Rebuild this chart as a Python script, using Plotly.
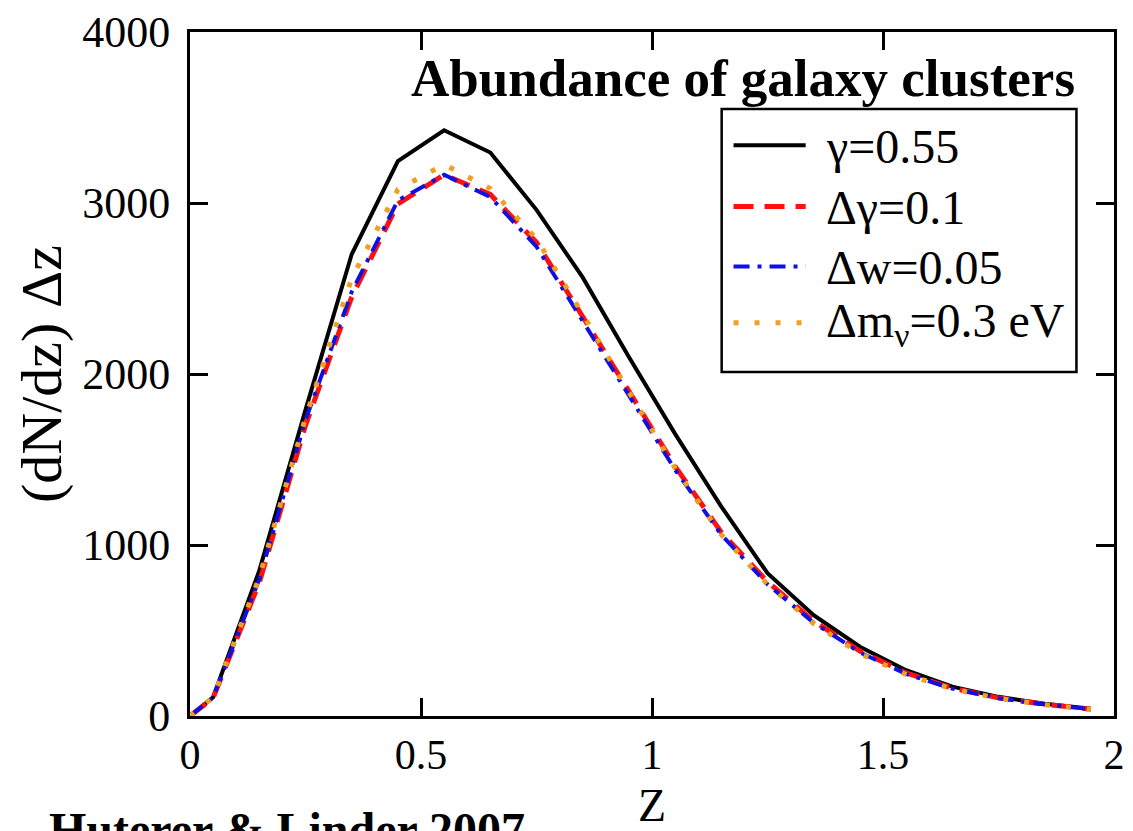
import plotly.graph_objects as go

# Redshift bin centres and cluster counts per bin for each model
z = [0.0, 0.05, 0.15, 0.25, 0.35, 0.45, 0.55, 0.65, 0.75, 0.85, 0.95,
     1.05, 1.15, 1.25, 1.35, 1.45, 1.55, 1.65, 1.75, 1.85, 1.95]
n_fiducial = [0, 110, 850, 1790, 2700, 3245, 3425, 3295, 2960, 2565, 2100,
              1650, 1225, 835, 590, 405, 268, 172, 112, 72, 42]
n_dgamma = [0, 105, 780, 1700, 2450, 2995, 3165, 3050, 2770, 2340, 1900,
            1460, 1075, 785, 555, 380, 252, 163, 106, 68, 40]
n_dw = [0, 108, 800, 1730, 2480, 3015, 3165, 3035, 2745, 2310, 1875,
        1440, 1060, 770, 545, 372, 246, 160, 104, 67, 40]
n_dmnu = [0, 110, 810, 1745, 2560, 3080, 3225, 3085, 2790, 2350, 1895,
          1450, 1060, 770, 540, 365, 243, 158, 103, 66, 39]

labels = ["γ=0.55", "Δγ=0.1", "Δw=0.05", "Δm<sub>ν</sub>=0.3 eV"]
series = [n_fiducial, n_dgamma, n_dw, n_dmnu]

x_ticks = [0, 0.5, 1, 1.5, 2]
x_ticktext = ["0", "0.5", "1", "1.5", "2"]
y_ticks = [0, 1000, 2000, 3000, 4000]

styles = [
    dict(color="#000000", width=4, dash="solid"),
    dict(color="#ff1010", width=5, dash="20px,11px"),
    dict(color="#1010e0", width=4, dash="16px,8px,4px,8px"),
    dict(color="#f0a020", width=5, dash="5px,16px"),
]

W, H = 1133, 831
ML, MR, MT, MB = 190, 8, 28, 109
SERIF = "Liberation Serif, Times New Roman, serif"

fig = go.Figure()
for name, vals, st in zip(labels, series, styles):
    fig.add_trace(go.Scatter(x=z, y=vals, mode="lines", name=name,
                             line=st, showlegend=False))

axis_common = dict(
    showline=True, linecolor="black", linewidth=3, mirror="ticks",
    ticks="inside", ticklen=18, tickwidth=2.5, tickcolor="black",
    showgrid=False, zeroline=False,
)

fig.update_layout(
    width=W, height=H,
    margin=dict(l=ML, r=MR, t=MT, b=MB, pad=0),
    paper_bgcolor="white", plot_bgcolor="white",
    xaxis=dict(range=[0, 2], tickvals=x_ticks, ticktext=x_ticktext,
               tickfont=dict(family=SERIF, size=42, color="black"),
               title=dict(text="Z", font=dict(family=SERIF, size=46, color="black"),
                          standoff=12),
               **axis_common),
    yaxis=dict(range=[0, 4000], tickvals=y_ticks, ticklabelstandoff=8,
               tickfont=dict(family=SERIF, size=44, color="black"),
               title=dict(text="(dN/dz) Δz", font=dict(family=SERIF, size=58, color="black"),
                          standoff=2),
               **axis_common),
)

# Legend box drawn in paper coordinates
plot_w = W - ML - MR
plot_h = H - MT - MB


def px_x(p):
    return (p - ML) / plot_w


def px_y(p):
    return (H - MB - p) / plot_h


fig.add_shape(type="rect", xref="paper", yref="paper",
              x0=px_x(728), x1=px_x(1087), y0=px_y(373), y1=px_y(106),
              line=dict(color="black", width=2.5), fillcolor="white", layer="above")

row_y = [143, 205, 266, 323]
for name, st, ry in zip(labels, styles, row_y):
    fig.add_shape(type="line", xref="paper", yref="paper",
                  x0=px_x(740), x1=px_x(813), y0=px_y(ry), y1=px_y(ry),
                  line=st, layer="above")
    fig.add_annotation(text=name, xref="paper", yref="paper",
                       x=px_x(832), y=px_y(ry + 1), xanchor="left", yanchor="middle",
                       showarrow=False,
                       font=dict(family=SERIF, size=48, color="black"))

fig.add_annotation(text="<b>Abundance of galaxy clusters</b>", xref="paper", yref="paper",
                   x=px_x(1088), y=px_y(75), xanchor="right", yanchor="middle",
                   showarrow=False,
                   font=dict(family=SERIF, size=53, color="black"))

fig.add_annotation(text="<b>Huterer &amp; Linder 2007</b>", xref="paper", yref="paper",
                   x=px_x(45), y=px_y(808), xanchor="left", yanchor="top",
                   showarrow=False,
                   font=dict(family=SERIF, size=48, color="black"))

fig.write_html("out.html")
